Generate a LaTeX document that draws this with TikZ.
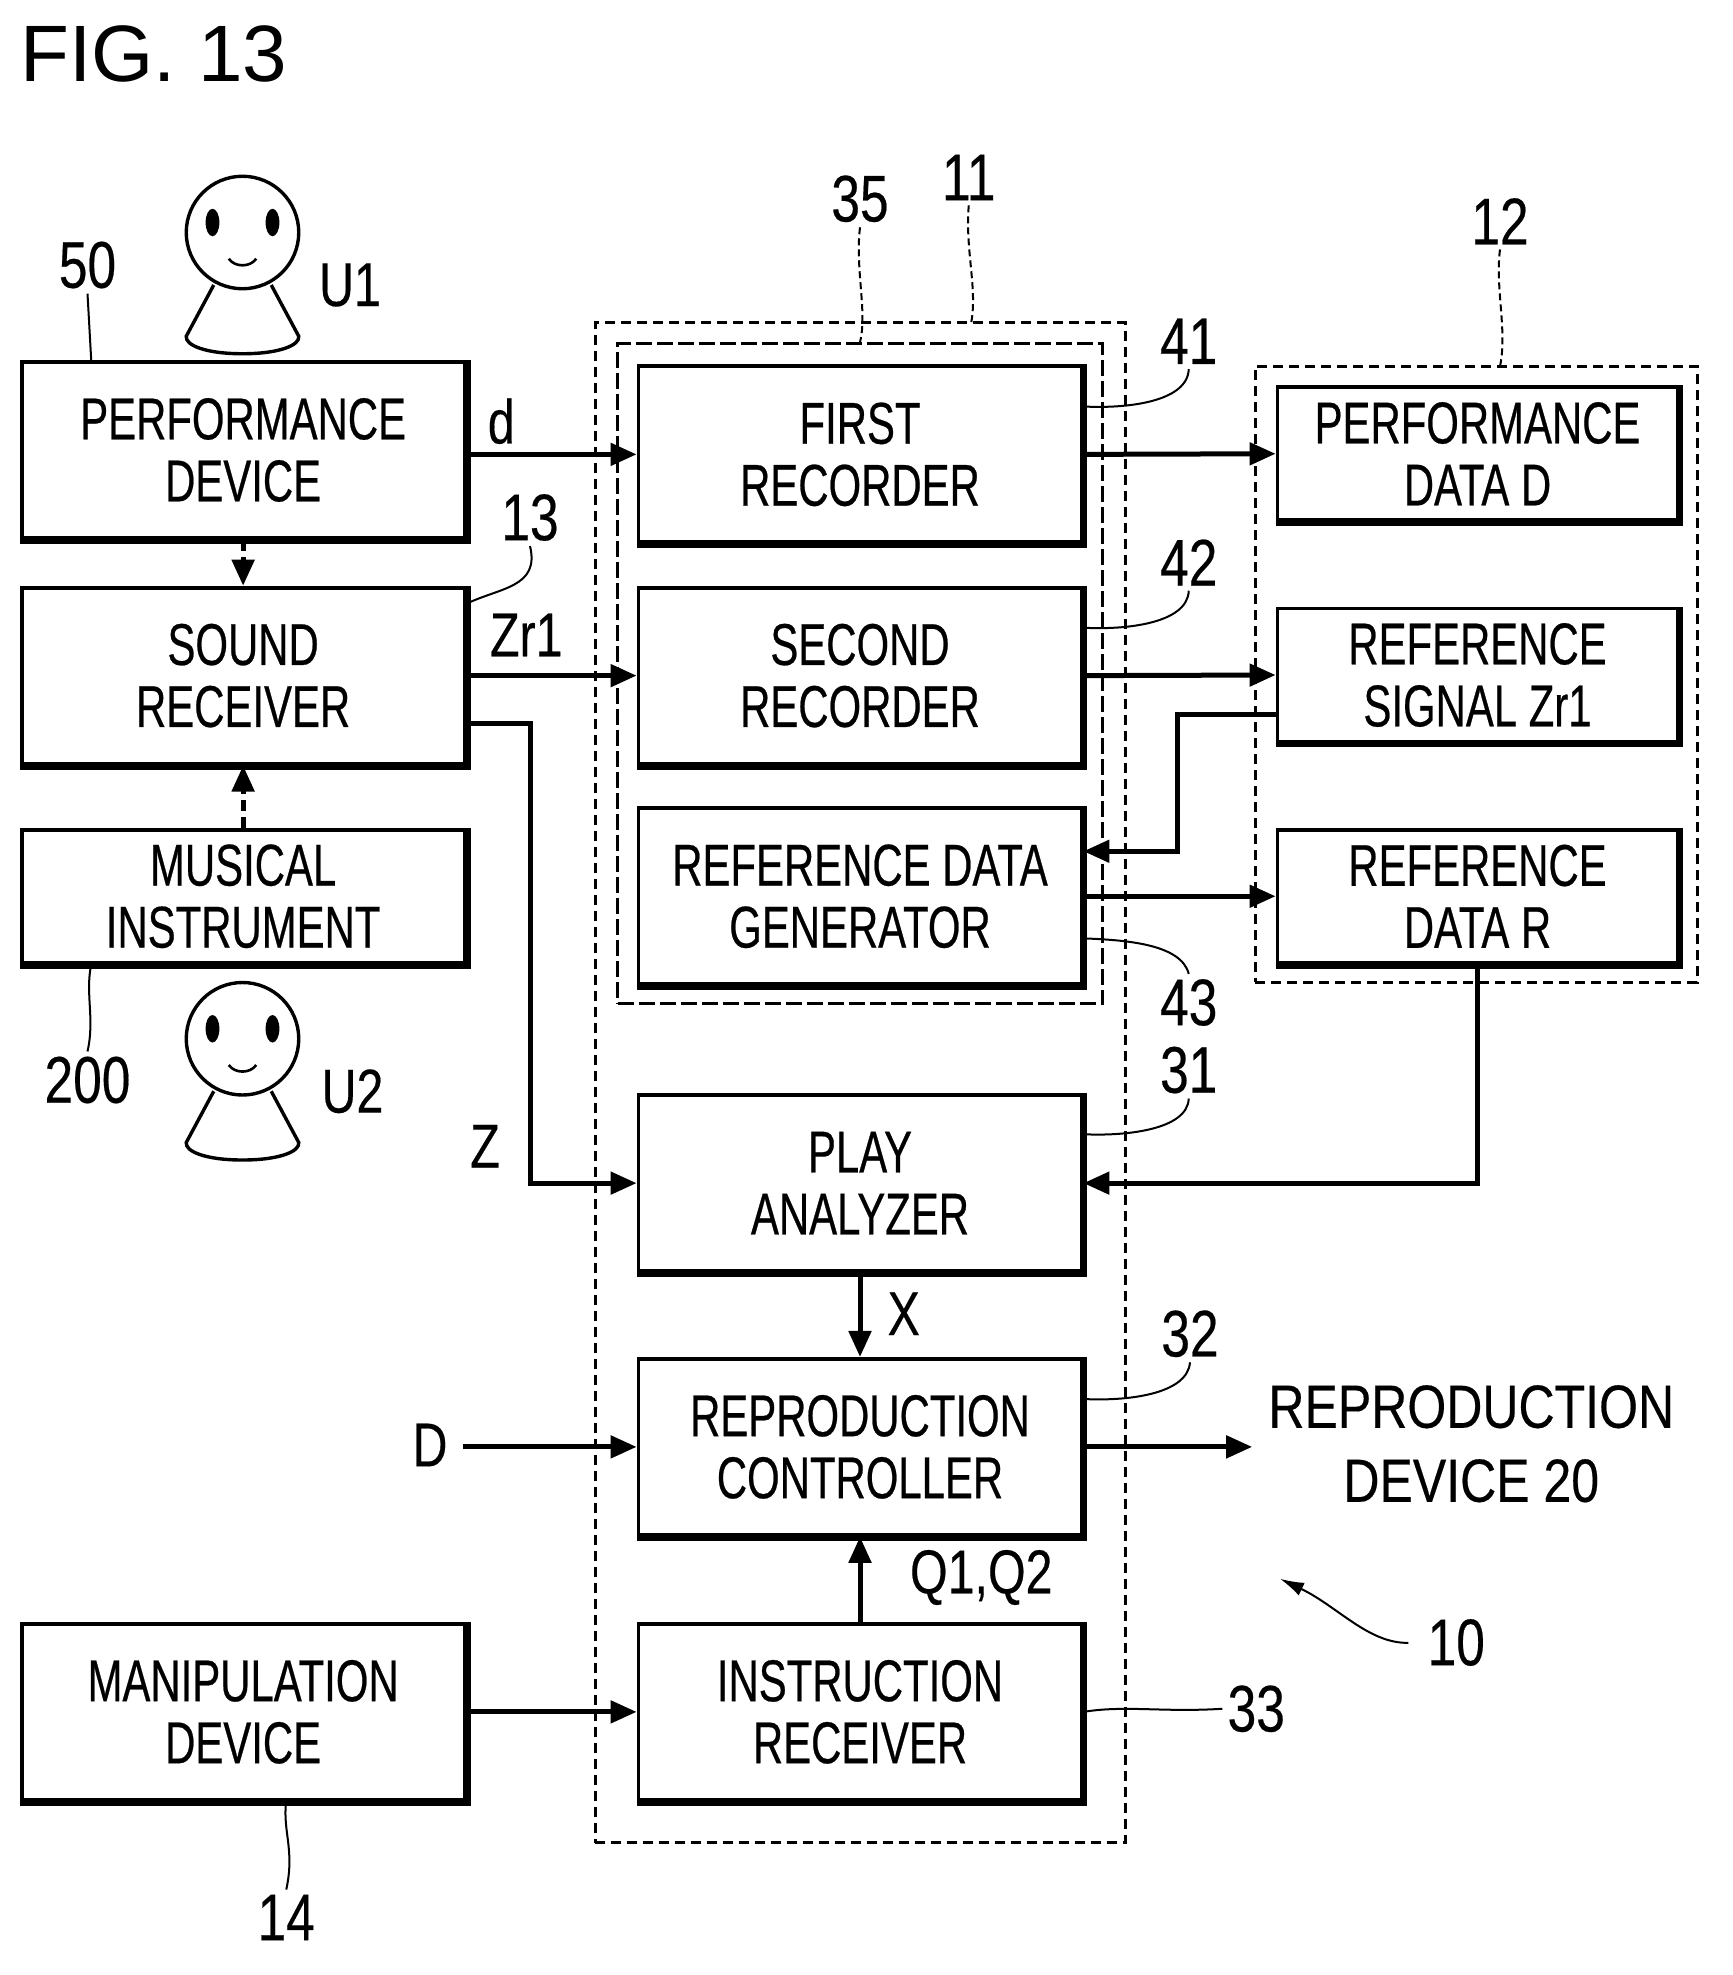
\documentclass[tikz,border=0pt]{standalone}
\usepackage{fontspec}
\setmainfont{Liberation Sans}
\newfontfamily\boxf[FakeStretch=0.71,FakeBold=0.4]{Liberation Sans}
\newfontfamily\numf[FakeStretch=0.78,FakeBold=0.3]{Liberation Sans}
\newfontfamily\bigf[FakeStretch=0.82,FakeBold=0.3]{Liberation Sans}
\usetikzlibrary{arrows.meta,calc}
\tikzset{
  x=1.25pt,y=-1.25pt,
  boxbase/.style={draw,line width=3.8pt,fill=white,inner sep=0pt,align=center,font=\boxf\fontsize{59}{62}\selectfont},
  bigbox/.style={boxbase,minimum width=443pt,minimum height=176pt},
  midbox/.style={boxbase,minimum width=443pt,minimum height=133pt},
  datbox/.style={boxbase,minimum width=400pt,minimum height=133pt},
  shade/.style={line width=4pt},
  flow/.style={line width=5pt,-{Triangle[length=26pt,width=22pt]}},
  flowd/.style={flow,dash pattern=on 11pt off 6pt},
  lead/.style={line width=2pt},
  leadd/.style={line width=2pt,dash pattern=on 7pt off 4pt},
  dbox/.style={draw,line width=3pt,dash pattern=on 10pt off 6pt,inner sep=0pt},
  num/.style={inner sep=5pt,font=\numf\fontsize{66}{70}\selectfont},
  lab/.style={inner sep=0pt,font=\numf\fontsize{62}{66}\selectfont},
  person/.pic={
    \draw[line width=3.4pt] (0,0) circle (45);
    \fill (-24,-8) ellipse (5.5 and 11);
    \fill (24,-8) ellipse (5.5 and 11);
    \draw[line width=2.6pt] (-11,21) .. controls (-6,28) and (6,28) .. (11,21);
    \draw[line width=3.4pt] (-23,42) -- (-45,83) .. controls (-46,90) and (-30,97) .. (0,97)
       .. controls (30,97) and (46,90) .. (45,83) -- (23,42);
  }
}
\newcommand{\shadowon}[1]{\draw[shade] ([shift={(0pt,-2pt)}]#1.south west) -- ([shift={(2pt,-2pt)}]#1.south east) -- ([shift={(2pt,0pt)}]#1.north east);}
\begin{document}
\begin{tikzpicture}
\useasboundingbox[fill=white] (0,0) rectangle (1385.6,1580);

\node[inner sep=0pt,font=\fontsize{80}{84}\selectfont] (title) at (123,43) {FIG. 13};

% dashed groups
\node[dbox,minimum width=530pt,minimum height=1520pt] (g11) at (688,866) {};
\node[dbox,line width=3.4pt,dash pattern=on 16pt off 5pt,minimum width=485pt,minimum height=660pt] (g35) at (688,539) {};
\node[dbox,minimum width=442pt,minimum height=616pt] (g12) at (1181,539.5) {};

% people
\pic at (194,186) {person};
\pic at (194,831) {person};

% boxes
\node[bigbox] (perf) at (194.5,360) {PERFORMANCE\\DEVICE};
\node[bigbox] (sound) at (194.5,540.5) {SOUND\\RECEIVER};
\node[midbox] (music) at (194.5,717) {MUSICAL\\INSTRUMENT};
\node[bigbox] (manip) at (194.5,1369.5) {MANIPULATION\\DEVICE};
\node[bigbox] (first) at (688,363.5) {FIRST\\RECORDER};
\node[bigbox] (second) at (688,540.5) {SECOND\\RECORDER};
\node[bigbox] (refgen) at (688,717) {REFERENCE DATA\\GENERATOR};
\node[bigbox] (play) at (688,946.5) {PLAY\\ANALYZER};
\node[bigbox] (repro) at (688,1157.5) {REPRODUCTION\\CONTROLLER};
\node[bigbox] (instr) at (688,1369.5) {INSTRUCTION\\RECEIVER};
\node[datbox] (pdata) at (1182,363) {PERFORMANCE\\DATA D};
\node[datbox] (rsig) at (1182,540) {REFERENCE\\SIGNAL Zr1};
\node[datbox] (rdata) at (1182,717) {REFERENCE\\DATA R};
\shadowon{perf}\shadowon{sound}\shadowon{music}\shadowon{manip}
\shadowon{first}\shadowon{second}\shadowon{refgen}\shadowon{play}\shadowon{repro}\shadowon{instr}
\shadowon{pdata}\shadowon{rsig}\shadowon{rdata}

% plain labels
\node[lab] (ld) at (401,337) {d};
\node[lab] (lzr) at (421,508) {Zr1};
\node[lab] (lz) at (388,917) {Z};
\node[lab] (lx) at (723,1051) {X};
\node[lab] (lD) at (344,1156) {D};
\node[lab] (lq) at (785,1262) {Q1,Q2};
\node[lab] (lu1) at (280,228) {U1};
\node[lab] (lu2) at (282,873) {U2};
\node[inner sep=0pt,align=center,font=\bigf\fontsize{61}{74}\selectfont] (rdev) at (1177,1155) {REPRODUCTION\\DEVICE 20};

% reference numbers
\node[num] (n50) at (70,212) {50};
\node[num] (n13) at (424,414) {13};
\node[num] (n41) at (951,273) {41};
\node[num] (n42) at (951,450) {42};
\node[num] (n43) at (951,802) {43};
\node[num] (n31) at (951,856) {31};
\node[num] (n32) at (952,1067) {32};
\node[num] (n33) at (1005,1367) {33};
\node[num] (n10) at (1165,1314) {10};
\node[num] (n14) at (229,1534) {14};
\node[num] (n200) at (70,864) {200};
\node[num] (n35) at (688,159) {35};
\node[num] (n11) at (775,142) {11};
\node[num] (n12) at (1200,177) {12};

% connectors
\draw[flow] (first.west -| perf.east) -- (first.west);
\draw[flow] (first.east) -- (pdata.west);
\draw[flow] (sound.east) -- (second.west);
\draw[flow] (second.east) -- (rsig.west);
\draw[flow] (refgen.east) -- (rdata.west);
\draw[flow] ([yshift=-48pt]sound.east) -- ++(64pt,0) |- (play.west);
\draw[flow] ([yshift=-39pt]rsig.west) -- ++(-98pt,0) |- ([yshift=45pt]refgen.east);
\draw[flow] (rdata.south) |- (play.east);
\draw[flow] (play.south) -- (repro.north);
\draw[flow] (repro.west -| 370,0) -- (repro.west);
\draw[flow,shorten >=16pt] (repro.east) -- (rdev.west |- repro.east);
\draw[flow] (instr.north) -- (repro.south);
\draw[flow] (instr.west -| manip.east) -- (instr.west);
\draw[flowd] (perf.south) -- (sound.north);
\draw[flowd] (music.north) -- (sound.south);

% leader lines
\draw[lead] (n50.south) -- ($(perf.north west)!0.16!(perf.north east)$);
\draw[lead] ([yshift=-18pt]sound.north east) .. controls (400,470) and (432,470) .. (n13.south);
\draw[lead] ([yshift=-42pt]first.north east) .. controls (900,327) and (950,322) .. (n41.south);
\draw[lead] ([yshift=-42pt]second.north east) .. controls (900,504) and (950,499) .. (n42.south);
\draw[lead] ([yshift=-132pt]refgen.north east) .. controls (900,752) and (945,755) .. (n43.north);
\draw[lead] ([yshift=-41pt]play.north east) .. controls (900,909) and (950,904) .. (n31.south);
\draw[lead] ([yshift=-42pt]repro.north east) .. controls (900,1121) and (950,1116) .. (n32.south);
\draw[lead] (instr.east) .. controls (900,1364) and (930,1370) .. (n33.west);
\draw[lead] ([xshift=43pt]manip.south) .. controls (226,1465) and (236,1480) .. (n14.north);
\draw[lead] ($(music.south west)!0.16!(music.south east)$) .. controls (68,795) and (76,815) .. (n200.north);
\draw[leadd] (n35.south) .. controls (684,215) and (694,250) .. (g35.north);
\draw[leadd] (n11.south) .. controls (772,200) and (782,230) .. (777,258);
\draw[leadd] (n12.south) .. controls (1196,230) and (1206,265) .. (1200,293);
\draw[lead,shorten <=14pt,-{Latex[length=24pt,width=14pt]}] (n10.west) .. controls (1095,1315) and (1070,1285) .. (1024,1263);
\end{tikzpicture}
\end{document}
